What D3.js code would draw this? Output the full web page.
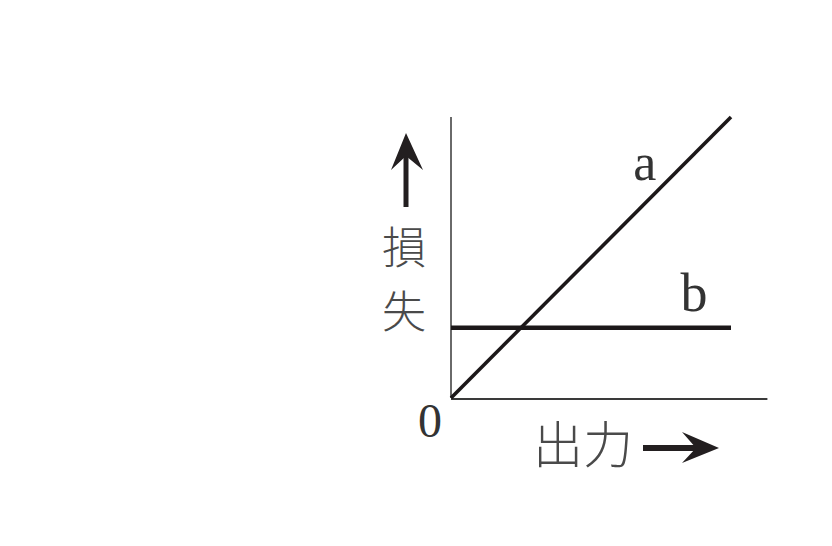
<!DOCTYPE html>
<html lang="ja">
<head>
<meta charset="UTF-8">
<script src="https://d3js.org/d3.v7.min.js"></script>
<title>損失と出力</title>
<style>
  body { margin: 0; background: #fff; }
  svg { display: block; }
</style>
</head>
<body>
<svg id="chart" width="832" height="546"></svg>
<script>
// data: loss vs output, both in relative units
const outputs = [0, 1];
const lossA = [0, 1];        // a: rises with output
const lossB = [0.25, 0.25];  // b: constant
const seriesNames = ["a", "b"];
const axisLabelY = ["損", "失"];
const axisLabelX = "出力";
const originLabel = "0";
const xMax = 1.13;
const yMax = 1.0;

const svg = d3.select("#chart");

let x = d3.scaleLinear().domain([0, 1]).range([451, 731]);
let y = d3.scaleLinear().domain([0, yMax]).range([398, 117]);

// y axis
svg.append("line")
  .attr("x1", x(0)).attr("x2", x(0))
  .attr("y1", y(0)).attr("y2", y(yMax))
  .attr("style", "stroke: #6a6a6a; stroke-width: 2");

// x axis
svg.append("line")
  .attr("x1", x(0)).attr("x2", x(xMax))
  .attr("y1", y(0) + 1).attr("y2", y(0) + 1)
  .attr("style", "stroke: #3a3a3a; stroke-width: 2");

let line = d3.line().x(d => x(d[0])).y(d => y(d[1]));

// b
svg.append("path")
  .attr("d", line(d3.zip(outputs, lossB)))
  .attr("fill", "none")
  .attr("style", "stroke: #1c1819; stroke-width: 4.5");

// a
svg.append("path")
  .attr("d", line(d3.zip(outputs, lossA)))
  .attr("fill", "none")
  .attr("style", "stroke: #1c1819; stroke-width: 3.6; stroke-linecap: butt");

// series labels
svg.append("text")
  .attr("x", x(0.692)).attr("y", y(0.775))
  .attr("text-anchor", "middle")
  .attr("style", "font-family: 'Liberation Serif', serif; font-size: 52px; fill: #333")
  .text(seriesNames[0]);

svg.append("text")
  .attr("x", x(0.868)).attr("y", y(0.31))
  .attr("text-anchor", "middle")
  .attr("style", "font-family: 'Liberation Serif', serif; font-size: 54px; fill: #333")
  .text(seriesNames[1]);

// origin
svg.append("text")
  .attr("x", 430).attr("y", 437)
  .attr("text-anchor", "middle")
  .attr("style", "font-family: 'Liberation Serif', serif; font-size: 48px; fill: #333")
  .text(originLabel);

// y label, written top to bottom
axisLabelY.forEach((ch, i) => {
  svg.append("text")
    .attr("x", 404).attr("y", 264 + i * 64)
    .attr("text-anchor", "middle")
    .attr("style", "font-family: 'Noto Sans CJK JP', sans-serif; font-size: 44px; font-weight: 300; fill: #4a4a4a")
    .text(ch);
});

// up arrow
svg.append("line")
  .attr("x1", 406).attr("x2", 406)
  .attr("y1", 207).attr("y2", 145)
  .attr("style", "stroke: #231f20; stroke-width: 5");
svg.append("path")
  .attr("d", "M406,133 L423,170 L406,156 L391,170 Z")
  .attr("fill", "#231f20");

// x label
svg.append("text")
  .attr("x", 533).attr("y", 463)
  .attr("style", "font-family: 'Noto Sans CJK JP', sans-serif; font-size: 50px; font-weight: 300; fill: #4a4a4a")
  .text(axisLabelX);

// right arrow
svg.append("line")
  .attr("x1", 643).attr("x2", 706)
  .attr("y1", 448).attr("y2", 448)
  .attr("style", "stroke: #231f20; stroke-width: 6");
svg.append("path")
  .attr("d", "M719,448 L682,432 L696,448 L682,463 Z")
  .attr("fill", "#231f20");
</script>
</body>
</html>
